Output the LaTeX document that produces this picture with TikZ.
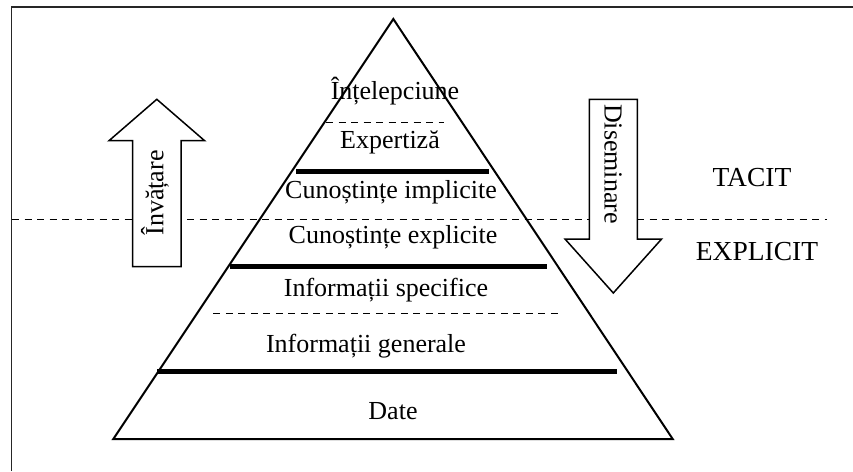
\documentclass[tikz,border=0pt]{standalone}
\usepackage{fontspec}
\setmainfont{Liberation Serif}
\begin{document}
\begin{tikzpicture}[x=1pt,y=-1pt,
  lbl/.style={inner sep=0pt,anchor=base,font=\fontsize{26}{30}\selectfont},
  big/.style={inner sep=0pt,anchor=base,font=\fontsize{27.5}{32}\selectfont},
  thin/.style={line width=1.5pt},
  sep/.style={line width=5pt},
  dsh/.style={line width=1.3pt,dash pattern=on 7pt off 5.5pt},
  arr/.style={line width=1.5pt,fill=white,line join=miter}]
\useasboundingbox (0,0) rectangle (853,471);
% frame (top and left only)
\draw[line width=1.6pt,black!85] (11.5,471) -- (11.5,7) -- (853,7);
% pyramid
\coordinate (apex) at (393.3,19);
\coordinate (bl) at (113.3,439);
\coordinate (br) at (672.7,439);
\draw[line width=2pt,line join=miter] (bl) -- (apex) -- (br) -- cycle;
% global tacit/explicit separator
\draw[dsh] (12,219.3) -- (827,219.3);
% internal separators
\draw[dsh] (326,122.3) -- (444,122.3);
\draw[sep] (296,171.7) -- (489.3,171.7);
\draw[sep] (230,266.7) -- (546.7,266.7);
\draw[dsh] (213.3,313.3) -- (558.3,313.3);
\draw[sep] (157.3,371.7) -- (617.3,371.7);
% labels inside pyramid
\node[lbl] (intel) at (395,99.3) {Înțelepciune};
\node[lbl] (expert) at (390,148.3) {Expertiză};
\node[lbl] (cimpl) at (391,198.3) {Cunoștințe implicite};
\node[lbl] (cexpl) at (393,243.3) {Cunoștințe explicite};
\node[lbl] (ispec) at (386,296.7) {Informații specifice};
\node[lbl] (igen) at (366,352.3) {Informații generale};
\node[lbl] (date) at (393,419) {Date};
% side labels
\node[big] (tacit) at (752,186) {TACIT};
\node[big] (explicit) at (757,260) {EXPLICIT};
% up arrow (learning)
\draw[arr] (132.7,266.7) -- (132.7,140.7) -- (109,140.7) -- (156.8,99.3)
  -- (204.6,140.7) -- (181,140.7) -- (181,266.7) -- cycle;
\node[lbl,anchor=center,rotate=90] (invat) at (155,193) {Învățare};
% down arrow (dissemination)
\draw[arr] (589.3,99.3) -- (637.3,99.3) -- (637.3,239) -- (661.6,239)
  -- (613.3,293) -- (565,239) -- (589.3,239) -- cycle;
\node[lbl,anchor=center,rotate=-90] (disem) at (613,164) {Diseminare};
\end{tikzpicture}
\end{document}
